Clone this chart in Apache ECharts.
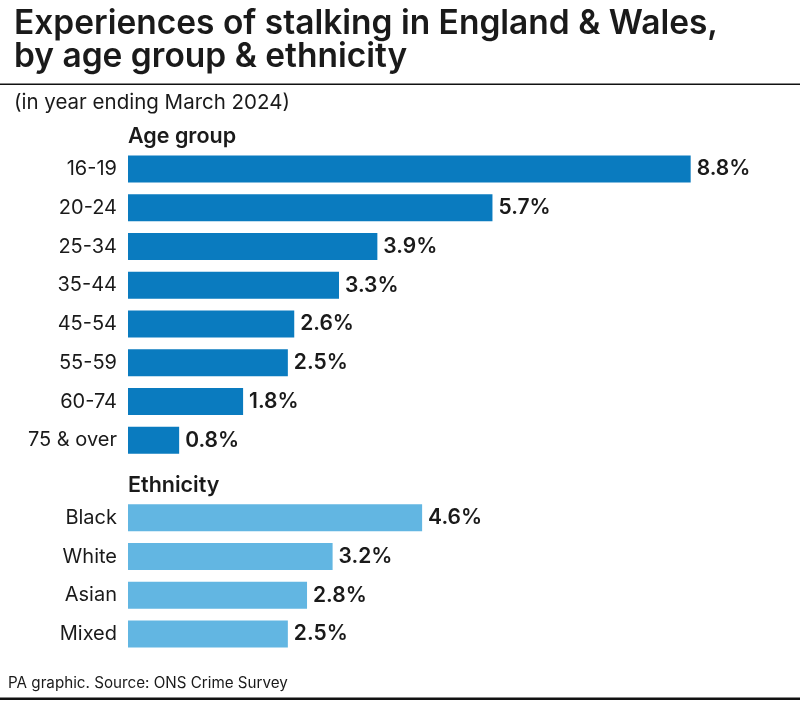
<!DOCTYPE html>
<html>
<head>
<meta charset="utf-8">
<script src="https://cdn.jsdelivr.net/npm/echarts@6/dist/echarts.min.js"></script>
<style>html,body{margin:0;padding:0;background:#fff}#c{width:800px;height:705px}</style>
</head>
<body>
<div id="c"></div>
<script>
const ageGroups = ['16-19', '20-24', '25-34', '35-44', '45-54', '55-59', '60-74', '75 & over'];
const ageValues = [8.8, 5.7, 3.9, 3.3, 2.6, 2.5, 1.8, 0.8];
const ethnicities = ['Black', 'White', 'Asian', 'Mixed'];
const ethnicityValues = [4.6, 3.2, 2.8, 2.5];
const ageColor = '#0a7bbf';
const ethColor = '#62b6e2';

const categories = ageGroups.concat([''], ethnicities);
const data = ageValues.map(v => ({ value: v, itemStyle: { color: ageColor } }))
  .concat([{ value: '-' }])
  .concat(ethnicityValues.map(v => ({ value: v, itemStyle: { color: ethColor } })));

const FONT = 'Inter, "Noto Sans", sans-serif';
const TXT = '#1a1a1a';

const chart = echarts.init(document.getElementById('c'));
chart.setOption({
  backgroundColor: '#fff',
  animation: false,
  grid: { left: 128, top: 149.6, right: 32.6, bottom: 51.6, containLabel: false },
  xAxis: { type: 'value', min: 0, max: 10, show: false },
  yAxis: {
    type: 'category', data: categories, inverse: true,
    axisLine: { show: false }, axisTick: { show: false }, splitLine: { show: false },
    axisLabel: { fontFamily: FONT, fontSize: 20, color: TXT, margin: 11, padding: [4, 0, 0, 0] }
  },
  series: [{
    type: 'bar', data: data, barWidth: 27,
    label: {
      show: true, position: 'right', distance: 6,
      fontFamily: FONT, fontSize: 21, fontWeight: 600, color: TXT,
      padding: [4, 0, 0, 0],
      formatter: p => p.value.toFixed(1) + '%'
    }
  }],
  graphic: [
    { type: 'text', left: 14, top: 7, style: { text: 'Experiences of stalking in England & Wales,\nby age group & ethnicity', fontFamily: FONT, fontSize: 33.5, fontWeight: 600, lineHeight: 33, fill: TXT } },
    { type: 'rect', shape: { x: 0, y: 83.5, width: 800, height: 1.5 }, style: { fill: '#111' } },
    { type: 'text', left: 14, top: 92, style: { text: '(in year ending March 2024)', fontFamily: FONT, fontSize: 20.5, fill: TXT } },
    { type: 'text', left: 128, top: 126, style: { text: 'Age group', fontFamily: FONT, fontSize: 21.5, fontWeight: 600, fill: TXT } },
    { type: 'text', left: 128, top: 475, style: { text: 'Ethnicity', fontFamily: FONT, fontSize: 21.5, fontWeight: 600, fill: TXT } },
    { type: 'text', left: 8, top: 676, style: { text: 'PA graphic. Source: ONS Crime Survey', fontFamily: FONT, fontSize: 15.2, fill: TXT } },
    { type: 'rect', shape: { x: 0, y: 697.5, width: 800, height: 2.5 }, style: { fill: '#111' } }
  ]
});
</script>
</body>
</html>
